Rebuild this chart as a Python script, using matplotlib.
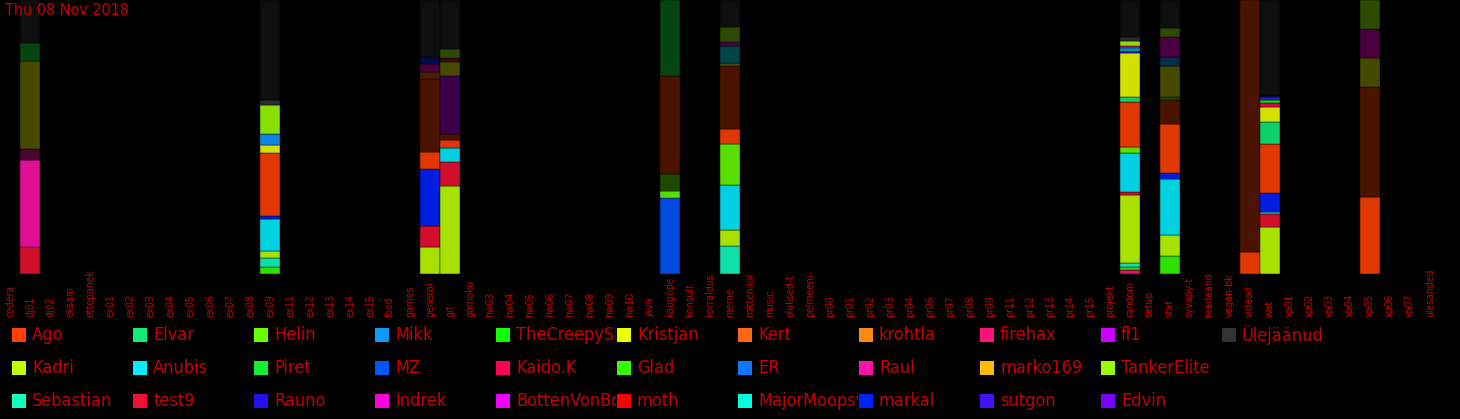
import matplotlib
matplotlib.use("Agg")
import matplotlib.pyplot as plt
from matplotlib import font_manager
from matplotlib.patches import Rectangle
from matplotlib.colors import to_rgb
from matplotlib.transforms import Bbox

# Channels shown on the x axis (labels as cut in the original)
channels = ["codera", "dj01", "dj02", "eksam", "ettepanek", "ex01", "ex02", "ex03",
            "ex04", "ex05", "ex06", "ex07", "ex08", "ex09", "ex11", "ex12", "ex13",
            "ex14", "ex15", "food", "games", "general", "git", "gomoku", "hw03",
            "hw04", "hw05", "hw06", "hw07", "hw08", "hw09", "hw10", "java", "kaugõpe",
            "konsult", "korraldus", "meme", "mitteniiol", "music", "olulised-t",
            "pelmeeni-", "pr00", "pr01", "pr02", "pr03", "pr04", "pr06", "pr07", "pr08",
            "pr09", "pr11", "pr12", "pr13", "pr14", "pr15", "projekt", "random",
            "setup", "stat", "syvapy-t", "teadaand", "vegan-bk", "videod", "wat",
            "xp01", "xp02", "xp03", "xp04", "xp05", "xp06", "xp07", "ülesanded"]

# Users in legend order
users = ["Ago", "Kadri", "Sebastian", "Elvar", "Anubis", "test9", "Helin", "Piret",
         "Rauno", "Mikk", "MZ", "Indrek", "TheCreepySh", "Kaido.K", "BottenVonBot",
         "Kristjan", "Glad", "moth", "Kert", "ER", "MajorMoopsy", "krohtla", "Raul",
         "markal", "firehax", "marko169", "sutgon", "fl1", "TankerElite", "Edvin",
         "Ülejäänud"]
user_colors = ["#ff4000", "#bfff00", "#11ffbb", "#11ee77", "#00eeff", "#ee1133",
               "#66ff00", "#11ee33", "#2211ee", "#1199ff", "#0055ff", "#ff00dd",
               "#11ff00", "#ff0055", "#ee00ff", "#eeff00", "#33ff00", "#ff0000",
               "#ff6611", "#1177ff", "#00ffdd", "#ff8811", "#ff11aa", "#0022ff",
               "#ff1177", "#ffbb00", "#4411ff", "#cc00ff", "#99ff00", "#7700ff",
               "#333333"]

# Share of messages per channel, bottom to top: bright part, then dimmed part
dj01_bright = [("test9", 27), ("Raul", 87)]
dj01_dim = [("Raul", 11), ("Kristjan", 87), ("Piret", 18), ("Ülejäänud", 43)]

ex09_bright = [("Glad", 7), ("Sebastian", 9), ("Kadri", 7), ("Anubis", 32),
               ("markal", 3), ("Ago", 62), ("Kristjan", 8), ("Mikk", 11),
               ("TankerElite", 29), ("Ülejäänud", 5)]
ex09_dim = [("Ülejäänud", 99)]

general_bright = [("Kadri", 27), ("test9", 21), ("markal", 56), ("Ago", 17)]
general_dim = [("Ago", 73), ("Kert", 7), ("Indrek", 7), ("markal", 7), ("Ülejäänud", 57)]

git_bright = [("Kadri", 86), ("test9", 24), ("Anubis", 14), ("Ago", 8)]
git_dim = [("Ago", 5), ("fl1", 57), ("Kristjan", 14), ("test9", 4),
           ("TankerElite", 9), ("Ülejäänud", 48)]

kaugope_bright = [("MZ", 75), ("Helin", 7)]
kaugope_dim = [("Helin", 17), ("Ago", 98), ("Piret", 75)]

meme_bright = [("Sebastian", 28), ("Kadri", 15), ("Anubis", 45), ("Helin", 40), ("Ago", 15)]
meme_dim = [("Ago", 62), ("Kristjan", 3), ("Anubis", 17), ("Indrek", 4),
            ("TankerElite", 14), ("Ülejäänud", 27)]

random_bright = [("firehax", 4), ("Glad", 3), ("Sebastian", 4), ("Kadri", 68),
                 ("test9", 3), ("Anubis", 39), ("Helin", 6), ("Ago", 45), ("Elvar", 5),
                 ("Kristjan", 44.5), ("sutgon", 2), ("MajorMoopsy", 1.5), ("Mikk", 1.5),
                 ("Raul", 2), ("TankerElite", 4.5), ("Ülejäänud", 4)]
random_dim = [("Ülejäänud", 37)]

stat_bright = [("Glad", 18), ("Kadri", 20), ("Anubis", 55), ("markal", 6), ("Ago", 48)]
stat_dim = [("Ago", 24), ("Helin", 3), ("Kristjan", 30), ("Mikk", 9), ("Indrek", 20),
            ("TankerElite", 9), ("Ülejäänud", 27)]

videod_bright = [("Ago", 22)]
videod_dim = [("Ago", 252)]

wat_bright = [("Kadri", 46), ("test9", 13), ("Anubis", 2), ("markal", 19), ("Ago", 48),
              ("Elvar", 21), ("Kristjan", 15), ("Kaido.K", 4), ("TheCreepySh", 3),
              ("sutgon", 3)]
wat_dim = [("markal", 2), ("Ülejäänud", 93)]

xp05_bright = [("Ago", 76)]
xp05_dim = [("Ago", 108), ("Kristjan", 29), ("Indrek", 28), ("TankerElite", 29)]

bars = {
    "dj01": (dj01_bright, dj01_dim),
    "ex09": (ex09_bright, ex09_dim),
    "general": (general_bright, general_dim),
    "git": (git_bright, git_dim),
    "kaugõpe": (kaugope_bright, kaugope_dim),
    "meme": (meme_bright, meme_dim),
    "random": (random_bright, random_dim),
    "stat": (stat_bright, stat_dim),
    "videod": (videod_bright, videod_dim),
    "wat": (wat_bright, wat_dim),
    "xp05": (xp05_bright, xp05_dim),
}

TEXT_RED = "#c80000"

# narrow font if there is one
available = {f.name for f in font_manager.fontManager.ttflist}
if "Liberation Sans Narrow" in available:
    plt.rcParams["font.family"] = ["Liberation Sans Narrow", "DejaVu Sans"]
else:
    plt.rcParams["font.family"] = ["DejaVu Sans"]
    plt.rcParams["font.stretch"] = "condensed"

color_of = dict(zip(users, user_colors))


def shade(name, factor):
    r, g, b = to_rgb(color_of[name])
    return (r * factor, g * factor, b * factor)


W, H = 1460, 419
fig = plt.figure(figsize=(W / 100, H / 100), dpi=100, facecolor="black")
ax = fig.add_axes([0, 1 - 274 / H, 1440 / W, 274 / H])
ax.set_facecolor("black")

for channel, (bright, dim) in bars.items():
    x = channels.index(channel)
    total = sum(v for _, v in bright) + sum(v for _, v in dim)
    bottom = 0
    for segs, factor in ((bright, 0.88), (dim, 0.29)):
        for name, v in segs:
            h = v / total * 100
            ax.bar(x, h, bottom=bottom, width=1.0, color=shade(name, factor),
                   edgecolor="black", linewidth=0.3)
            bottom += h

ax.set_xlim(-0.5, len(channels) - 0.5)
ax.set_ylim(0, 100)
ax.set_yticks([])
ax.set_xticks(range(len(channels)))
ax.set_xticklabels(channels, rotation=90, fontsize=7.5, color=TEXT_RED, va="bottom")
ax.tick_params(axis="x", length=0, pad=31)
for s in ax.spines.values():
    s.set_visible(False)

fig.text(5 / W, 1 - 3 / H, "Thu 08 Nov 2018", ha="left", va="top",
         color=TEXT_RED, fontsize=11.5)

# legend grid, 3 rows, filled column by column (pixel coords, y from top)
lax = fig.add_axes([0, 0, 1, 1])
lax.set_xlim(0, W)
lax.set_ylim(H, 0)
lax.axis("off")
lax.patch.set_alpha(0)
row_y = [335, 368, 401]
for i, (name, col) in enumerate(zip(users, user_colors)):
    c, r = divmod(i, 3)
    x0 = 12 + 121 * c
    y0 = row_y[r]
    lax.add_patch(Rectangle((x0, y0 - 7), 14, 14, facecolor=col, edgecolor="none"))
    t = lax.text(x0 + 20, y0, name, color=TEXT_RED, fontsize=13, ha="left", va="center")
    # text is cut where the next column starts (display coords)
    t.set_clip_box(Bbox.from_extents(x0 + 18, H - y0 - 16, x0 + 120, H - y0 + 16))
    t.set_clip_on(True)

fig.savefig("out.png", dpi=100, facecolor="black")
